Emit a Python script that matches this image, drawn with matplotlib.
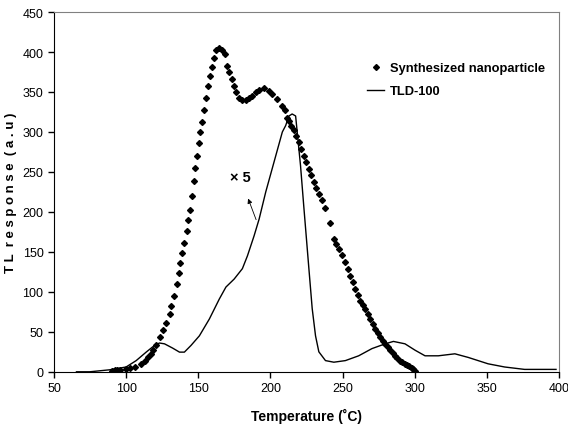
import numpy as np
import matplotlib.pyplot as plt
from matplotlib import font_manager

# pick a narrow sans if there is one
names = set(f.name for f in font_manager.fontManager.ttflist)
if "Liberation Sans Narrow" in names:
    fam = ["Liberation Sans Narrow", "DejaVu Sans"]
else:
    fam = ["Liberation Sans", "DejaVu Sans"]
plt.rcParams["font.family"] = fam

# Synthesized nanoparticle (markers)
nano_t = [90, 92, 94, 96, 100, 103, 106, 110.5, 113, 115, 117, 118.5, 120.9, 123.8,
          125.4, 127.7, 130.5, 131.4, 133.5, 135.4, 136.5, 137.7, 138.8, 140.4, 142,
          143, 144.3, 145.7, 146.8, 148, 149.4, 150.3, 151.4, 152.6, 154.2, 155.4,
          156.5, 158.1, 159.3, 161.1, 162.3, 164.2, 166.8, 168.7, 169.9, 171.5, 173.3,
          174.9, 176.5, 178.4, 180.6, 182.9, 185.3, 187.5, 189.9, 192.2, 195.6, 199,
          201.3, 204.8, 207.8, 210.1, 211.7, 212.9, 214.6, 216.3, 218, 219.8, 221.5,
          223.2, 225, 226.7, 228.4, 230.1, 231.9, 233.6, 236, 238.2, 241, 244, 245.5,
          247.4, 249.5, 252, 253.7, 255.4, 257.2, 258.9, 260.6, 262.4, 264, 265.8,
          267.5, 269.3, 271, 272.7, 274.5, 276.2, 278, 279.6, 281.3, 283, 284.8, 286.5,
          288, 289.9, 291.5, 293, 294.5, 296, 298, 299, 300.3]
nano_y = [1.6, 2, 2, 2.5, 3.7, 4.5, 6, 10, 14, 18, 22, 27, 34, 44,
          52, 61, 72.5, 82, 95, 110, 123, 136, 149, 161, 176,
          190, 202, 220, 239, 255, 270, 286, 300, 312, 327, 342,
          357, 370, 381, 392, 402, 405, 402, 397.5, 383, 375, 366,
          358, 350, 343, 340, 340, 342, 345, 350, 353, 354.6, 351.6,
          347.5, 341, 333, 327, 318, 314, 308, 302, 295, 287, 279,
          270, 262, 254, 246, 237, 230, 222.5, 215, 205, 186, 166, 160,
          154, 146, 137, 128, 120, 112, 104, 96, 89, 84, 79,
          72, 66, 60, 54, 48, 43, 39, 35, 31, 27, 23, 20,
          17, 14, 12, 10, 9, 7, 4.6, 3, 1.6]

# TLD-100 (line)
tld_t = [65.6, 74.8, 88.6, 100, 107, 113.9, 119.7, 123.1, 126.6, 132.3, 137, 140.4,
         145, 150.8, 157.7, 164.6, 169.2, 174.9, 180.6, 184.1, 188.7, 192.2, 196.8,
         203.7, 208.3, 210.6, 212.9, 215.1, 217.5, 218.6, 220.9, 223.2, 226.7, 229,
         231.3, 233.6, 238.2, 244, 252, 261.2, 270.4, 279.6, 285.3, 293.3, 300.3,
         307.2, 316.4, 327.9, 337.1, 350.9, 362.4, 376.2, 398]
tld_y = [0, 0, 2.5, 6, 14, 24.6, 33, 36, 35, 29.6, 24.6, 24.6,
         33, 45, 66, 91, 106, 116, 129, 145, 170, 191, 225,
         270, 300, 308, 320, 322.5, 320, 300, 258, 206, 129, 79,
         45, 25, 14, 12, 14, 20, 29, 35, 38, 35, 27,
         20, 20, 22.5, 18, 10, 6, 3, 3]

fig = plt.figure(figsize=(5.68, 4.35), dpi=100)
ax = fig.add_axes([0.095, 0.143, 0.889, 0.827])

ax.plot(tld_t, tld_y, color="black", lw=1.0, label="TLD-100", zorder=2)
ax.plot(nano_t, nano_y, ls="none", marker="D", ms=3.0, color="black",
        label="Synthesized nanoparticle", zorder=3)

ax.set_xlim(50, 400)
ax.set_ylim(0, 450)
ax.set_xticks(np.arange(50, 401, 50))
ax.set_yticks(np.arange(0, 451, 50))
ax.tick_params(direction="out", length=4, width=1, labelsize=9)
for s in ["top", "right"]:
    ax.spines[s].set_color("#808080")

ax.set_xlabel("Temperature (˚C)", fontsize=10, fontweight="bold", labelpad=10)
ax.set_ylabel("T L  r e s p o n s e  ( a . u )", fontsize=9.5, fontweight="bold", labelpad=4)

ax.annotate("", xy=(183.9, 220), xytext=(190.8, 187),
            arrowprops=dict(arrowstyle="-|>", color="black", lw=0.6, mutation_scale=7))
ax.text(179, 244, "× 5", fontsize=10.5, fontweight="bold", ha="center", va="center")

h, l = ax.get_legend_handles_labels()
ax.legend(h[::-1], l[::-1], loc="upper left", bbox_to_anchor=(0.61, 0.875),
          frameon=False, handlelength=1.3, handletextpad=0.45, labelspacing=0.85,
          borderaxespad=0, prop=dict(weight="bold", size=9.3))

fig.savefig("out.png", dpi=100)
